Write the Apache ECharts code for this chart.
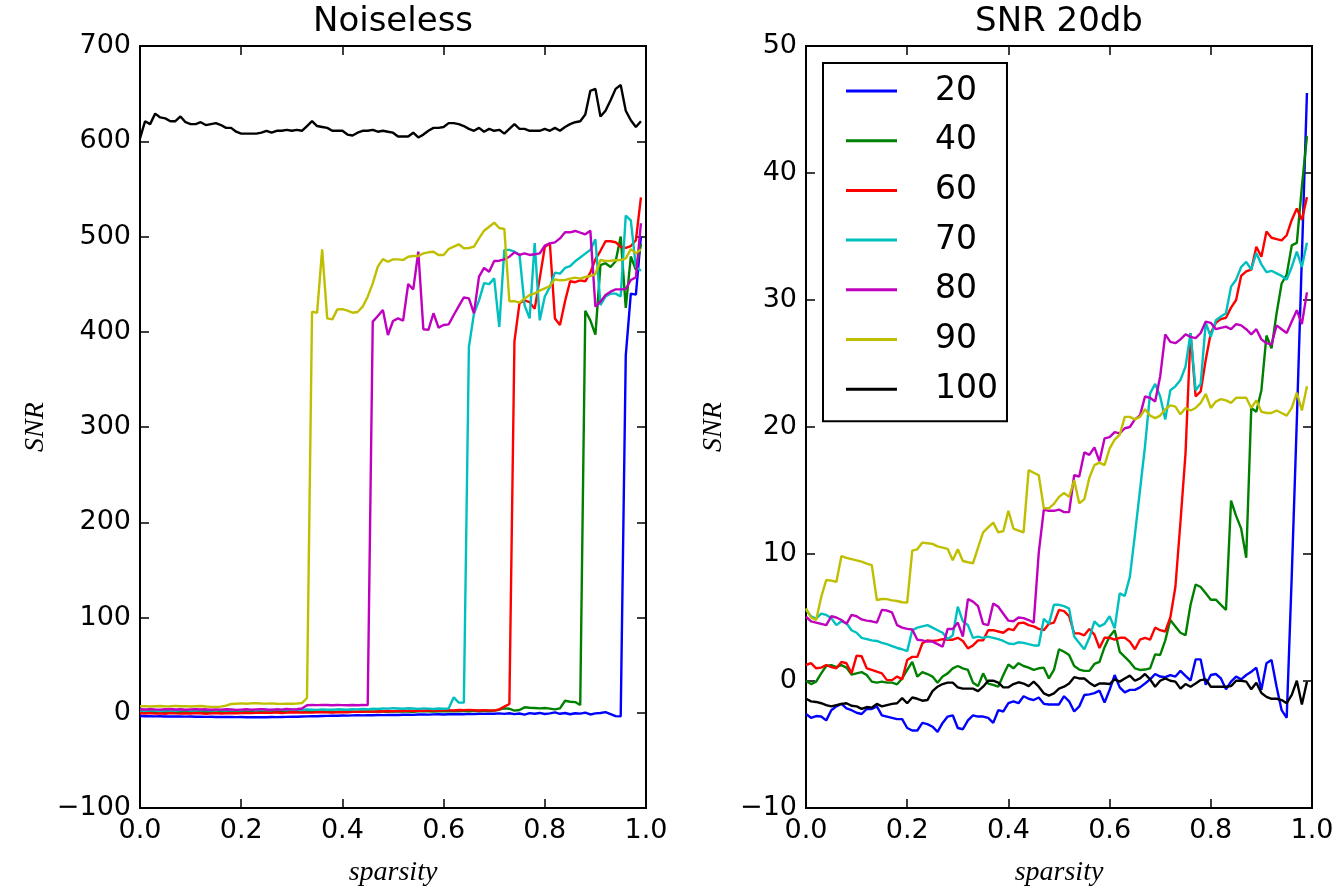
<!DOCTYPE html>
<html>
<head>
<meta charset="utf-8">
<script src="https://cdn.jsdelivr.net/npm/echarts@6/dist/echarts.min.js"></script>
<style>
html,body{margin:0;padding:0;background:#fff;}
#chart{width:1341px;height:888px;}
</style>
</head>
<body>
<div id="chart"></div>
<script>
// sparsity grid (x values)
const sparsity = [
0.00,0.01,0.02,0.03,0.04,0.05,0.06,0.07,0.08,0.09,
0.10,0.11,0.12,0.13,0.14,0.15,0.16,0.17,0.18,0.19,
0.20,0.21,0.22,0.23,0.24,0.25,0.26,0.27,0.28,0.29,
0.30,0.31,0.32,0.33,0.34,0.35,0.36,0.37,0.38,0.39,
0.40,0.41,0.42,0.43,0.44,0.45,0.46,0.47,0.48,0.49,
0.50,0.51,0.52,0.53,0.54,0.55,0.56,0.57,0.58,0.59,
0.60,0.61,0.62,0.63,0.64,0.65,0.66,0.67,0.68,0.69,
0.70,0.71,0.72,0.73,0.74,0.75,0.76,0.77,0.78,0.79,
0.80,0.81,0.82,0.83,0.84,0.85,0.86,0.87,0.88,0.89,
0.90,0.91,0.92,0.93,0.94,0.95,0.96,0.97,0.98,0.99];

const seriesNames = ['20','40','60','70','80','90','100'];
const seriesColors = ['#0000ff','#008000','#ff0000','#00bfbf','#bf00bf','#bfbf00','#000000'];

// ---------- Noiseless ----------
const noiseless20 = [
-3.4,-3.6,-3.5,-3.8,-3.7,-3.9,-3.8,-4.0,-3.9,-4.1,
-4.0,-4.2,-4.1,-4.3,-4.2,-4.4,-4.3,-4.5,-4.4,-4.6,
-4.5,-4.7,-4.6,-4.8,-4.6,-4.7,-4.5,-4.6,-4.4,-4.3,
-4.1,-4.2,-3.9,-3.8,-3.6,-3.7,-3.4,-3.3,-3.1,-3.2,
-2.9,-3.0,-2.8,-2.7,-2.8,-2.5,-2.6,-2.4,-2.5,-2.3,
-2.2,-2.4,-2.1,-2.0,-2.2,-1.9,-1.8,-2.0,-1.7,-1.6,
-1.8,-1.5,-1.6,-1.3,-1.5,-1.2,-1.4,-1.1,-1.2,-0.9,
-1.0,-0.7,-1.2,-0.5,-1.5,-0.8,-1.9,-0.4,-1.0,-0.2,
-1.3,-0.6,0.4,-1.1,-0.3,-1.6,-0.5,-0.9,0.2,-1.8,
-0.7,-0.2,0.6,-1.4,-3.5,-3.8,375,440,439,500];
const noiseless40 = [
0.5,0.3,0.8,0.4,0.9,0.6,0.2,0.7,0.5,1.0,
0.6,0.8,0.4,0.9,0.7,0.3,0.8,1.0,0.6,0.9,
0.5,0.8,1.1,0.7,0.6,0.9,1.2,0.8,0.7,1.0,
0.9,1.3,0.8,1.0,1.2,0.9,1.4,1.1,0.8,1.2,
1.0,1.3,1.1,0.9,1.4,1.2,1.0,1.5,1.3,1.1,
1.4,1.2,1.6,1.3,1.1,1.5,1.7,1.4,1.2,1.6,
1.5,1.8,1.4,1.7,1.9,1.6,2.0,1.8,2.1,1.9,
2.3,3.2,4.6,4.2,2.2,2.9,5.7,5.3,5.0,4.6,
5.0,4.3,3.6,4.6,12.6,11.6,11.2,8.1,422,412,
397,470,472,468,474,500,425,479,465,492];
const noiseless60 = [
-0.5,-0.8,-0.3,-0.9,-0.6,-1.0,-0.4,-0.7,-0.9,-0.5,
-0.8,-0.3,-0.6,-1.0,-0.7,-0.4,-0.8,-0.5,-0.2,-0.6,
-0.3,0.0,-0.4,0.2,-0.1,0.3,0.0,0.4,-0.2,0.1,
0.5,0.2,0.6,0.3,0.1,0.5,0.7,0.4,0.2,0.6,
0.8,0.5,0.9,1.2,1.0,1.4,1.1,1.6,1.3,1.8,
1.5,2.0,1.7,2.2,1.9,2.4,2.1,2.6,2.3,2.2,
2.5,2.8,2.4,2.9,2.6,3.0,2.7,2.4,2.8,2.5,
2.2,3.6,6.4,9.2,390,430,433,431,424,456,
489,493,414,407,432,453,452,454,453,462,
476,485,495,495,494,489,488,490,496,541];
const noiseless70 = [
2.2,2.0,2.5,2.3,1.9,2.4,2.6,2.1,2.5,2.8,
2.4,2.2,2.7,2.5,2.3,2.8,2.6,2.4,2.9,2.7,
2.5,3.0,2.8,2.6,3.1,2.9,2.7,3.2,3.0,2.8,
3.3,3.1,2.9,3.4,3.2,3.0,3.5,3.3,3.1,3.6,
3.4,3.2,3.7,3.5,3.9,3.6,4.2,4.0,4.5,4.3,
4.8,4.5,4.2,4.7,4.4,4.1,4.6,4.3,4.0,4.5,
4.2,4.5,16.2,10.6,10.6,384,419,433,451,450,
456,405,486,486,484,481,428,414,493,412,
437,447,462,461,467,469,474,478,482,486,
497,428,437,440,440,437,522,517,468,464];
const noiseless80 = [
3.6,3.4,3.8,3.5,3.3,3.7,3.9,3.4,3.6,3.2,
3.5,3.8,3.4,3.6,3.1,3.5,3.3,3.7,3.4,3.0,
3.3,3.6,3.2,3.5,3.8,3.4,3.1,3.6,3.3,3.9,
3.5,3.7,4.5,7.8,8.2,8.0,8.3,8.1,7.9,8.2,
8.0,7.8,8.1,7.9,8.2,8.0,410.6,416.5,422.8,396.6,
411.3,414,411.6,450.1,444.5,484.1,402.6,402,419.4,404.3,
407.1,407.8,417.6,426.9,436,435,419.4,457.8,467,463,
474.3,474.6,476,478.8,483.4,480.6,482.3,480.6,481.3,482.3,
490.4,492.8,493.8,498,504.4,504.4,505.8,504,502.3,506.1,
426.3,431.6,438.6,442.1,444.5,444.5,444.9,454.3,457.1,513.9];
const noiseless90 = [
6.8,7.0,6.6,6.9,7.1,6.7,6.9,7.2,6.8,7.0,
6.6,6.9,7.1,6.5,6.2,6.0,6.4,7.5,9.2,9.5,
9.8,9.4,9.9,10.1,9.7,9.6,9.8,9.5,9.3,9.6,
9.4,9.7,10.2,15.5,421.1,420,486.5,414.1,413,423.5,
423.8,422.1,420,420.7,426.3,436.8,450.8,468.3,476.3,473.5,
476,476,475.3,478.8,479.5,479.5,482.3,483.4,484,480.6,
480.6,486.9,489.3,491.8,487.6,487.9,489.3,498,506.1,510.3,
514.5,508.9,507.9,432,432.2,430.5,435,438.5,440.3,443.1,
445.5,448,455,454,454.3,455.7,456.8,455.7,457.5,458.5,
460.6,475.3,474.3,474.6,475,475.3,477,486.8,482.3,486.5];
const noiseless100 = [
603,621,618,629,625,624,621,621,626,620,
618,618,620,617,618,619,617,614,614,610,
608,608,608,608,609,611,609,611,611,612,
611,612,611,616,621,616,615,614,611,611,
611,607,606,609,611,611,612,610,611,610,
609,605,605,605,609,604,607,611,614,614,
615,619,619,618,616,613,611,614,610,613,
611,612,608,613,618,613,613,611,611,611,
613,611,614,611,615,618,620,621,628,653,
655,626,632,643,655,659,632,622,615,621];

// ---------- SNR 20db ----------
const snr20 = [
-2.6,-2.9,-2.76,-2.8,-3.1,-2.3,-2.0,-1.8,-2.15,-2.3,
-2.5,-2.6,-2.2,-2.2,-2.0,-2.7,-2.8,-2.9,-3.0,-3.0,
-3.7,-3.9,-3.9,-3.3,-3.4,-3.6,-4.0,-3.3,-2.8,-2.7,
-3.7,-3.8,-3.1,-2.7,-2.8,-2.8,-2.9,-3.3,-2.3,-2.4,
-1.75,-1.6,-1.75,-1.2,-1.4,-1.5,-1.3,-1.8,-1.85,-1.85,
-1.85,-1.2,-1.6,-2.4,-2.0,-1.1,-1.05,-0.95,-0.76,-1.7,
-0.7,0.47,-0.5,-0.9,-0.7,-0.7,-0.5,-0.2,0.13,0.55,
0.35,0.3,0.47,0.35,0.8,0.4,0.04,1.7,1.7,-0.3,
0.47,0.55,0.2,-0.65,-0.05,0.35,0.13,0.47,0.73,1.05,
-0.7,1.4,1.65,-0.45,-2.3,-2.9,8.3,20.5,33.4,46.3];
const snr40 = [
0.02,-0.24,-0.05,0.6,1.18,1.25,1.1,1.25,1.05,0.5,
0.6,0.7,0.47,-0.05,-0.13,-0.05,-0.13,-0.13,-0.26,0.2,
0.87,1.5,0.35,0.7,0.55,0.35,-0.13,0.35,0.6,1.0,
1.18,1.0,0.87,-0.13,-0.4,0.6,-0.2,-0.3,-0.45,0.47,
1.3,1.0,1.4,1.18,1.05,0.87,1.0,1.05,0.2,0.87,
2.5,2.3,2.05,1.18,0.9,0.8,0.8,1.34,1.5,2.66,
3.5,4.0,2.3,1.9,1.5,1.0,0.87,0.9,1.0,2.1,
2.05,3.2,4.8,4.3,3.8,3.6,6.0,7.6,7.4,6.9,
6.4,6.4,6.0,5.6,14.2,13.0,12.0,9.7,21.5,21.2,
22.9,27.2,26.2,28.95,31.3,32.0,34.3,34.5,38.9,42.9];
const snr60 = [
1.26,1.4,1.0,1.05,1.26,1.1,1.0,1.5,1.4,0.6,
2.0,1.95,1.0,0.87,0.73,0.6,0.07,0.07,0.35,0.13,
1.65,1.9,1.9,2.97,3.2,3.15,3.2,3.3,3.25,3.25,
3.4,3.15,2.57,2.8,3.2,3.2,4.0,4.0,3.9,3.8,
4.1,4.0,4.55,4.6,4.4,4.3,4.1,4.0,4.5,4.6,
5.6,5.5,5.1,3.75,3.75,3.6,4.1,3.65,2.6,3.4,
3.4,3.25,3.4,3.4,3.1,2.5,3.25,3.4,3.25,4.2,
4.0,3.9,5.0,7.4,12.5,17.9,27.4,22.4,22.8,25.3,
27.4,28.2,28.5,28.6,29.4,30.0,31.9,32.25,32.4,34.2,
33.4,35.4,34.9,34.8,34.7,35.1,36.3,37.2,36.3,38.1];
const snr70 = [
5.6,5.1,4.9,5.3,5.2,4.95,4.4,4.7,4.55,4.0,
3.8,3.4,3.3,3.2,3.15,3.0,2.9,2.75,2.6,2.5,
2.35,4.0,4.2,4.3,4.4,4.2,4.0,3.8,3.3,3.6,
5.85,4.7,4.4,3.4,3.5,3.4,3.5,3.4,3.3,3.15,
2.95,2.9,3.05,3.0,2.9,2.8,2.8,4.9,4.5,6.0,
6.0,5.9,5.7,3.5,3.0,2.5,3.4,4.7,4.3,4.5,
5.1,4.15,6.9,6.7,8.2,11.5,15.0,18.5,22.65,23.4,
22.4,20.6,22.9,23.2,23.7,24.75,27.4,22.9,23.4,28.2,
27.1,28.4,28.7,28.95,31.05,31.6,32.6,33.0,32.4,33.7,
32.8,32.2,32.3,32.1,31.9,31.6,32.6,33.8,32.6,34.5];
const snr80 = [
5.06,4.7,4.6,4.5,4.4,5.1,5.0,4.8,4.5,5.2,
5.1,4.85,4.75,4.7,4.6,5.6,5.55,5.4,4.4,4.2,
4.1,4.05,3.25,3.2,3.1,3.1,2.9,2.7,4.1,4.1,
4.6,3.5,6.45,6.25,5.9,4.5,4.4,6.1,5.85,5.3,
4.75,4.7,5.0,4.95,4.8,4.6,10.1,13.5,13.4,13.4,
13.5,13.3,13.3,16.2,16.1,18.0,17.8,18.4,17.3,19.1,
19.2,19.6,19.5,19.9,20.0,20.6,20.9,22.4,22.3,22.0,
24.0,27.3,26.7,26.6,26.9,27.3,27.1,27.0,27.4,28.3,
28.2,27.7,27.8,27.9,27.7,28.1,28.0,27.7,27.3,27.7,
26.9,26.6,26.5,28.0,27.7,27.4,28.3,29.2,28.1,30.6];
const snr90 = [
5.72,5.0,4.8,6.6,7.95,7.9,7.8,9.84,9.7,9.6,
9.5,9.4,9.25,9.13,6.38,6.46,6.45,6.35,6.3,6.2,
6.17,10.26,10.37,10.9,10.85,10.8,10.6,10.5,10.4,9.5,
10.37,9.45,9.35,9.27,10.5,11.7,12.1,12.47,11.7,11.8,
13.4,12.0,11.85,11.7,16.6,16.4,16.2,13.6,13.6,13.95,
14.5,14.8,14.5,15.8,14.0,14.3,16.0,17.0,17.2,17.0,
18.3,19.0,19.4,20.8,20.8,20.6,20.8,21.4,20.9,20.7,
20.9,21.4,21.7,21.6,21.0,21.5,21.3,21.5,21.9,22.6,
21.5,22.0,22.2,22.1,21.9,22.3,22.3,22.3,21.5,22.1,
21.2,21.1,21.1,21.3,21.1,20.9,21.5,22.7,21.3,23.2];
const snr100 = [
-1.4,-1.6,-1.65,-1.75,-1.9,-2.0,-1.9,-1.8,-1.75,-1.95,
-2.0,-2.2,-2.05,-2.1,-1.8,-2.0,-1.9,-1.8,-1.75,-1.35,
-1.75,-1.3,-1.4,-1.55,-1.5,-0.8,-0.45,-0.24,-0.13,-0.13,
-0.5,-0.6,-0.6,-0.6,-0.8,-0.45,0.02,0.02,-0.13,-0.5,
-0.5,-0.24,-0.1,-0.2,-0.4,-0.05,-0.45,-0.97,-1.15,-0.97,
-0.6,-0.45,-0.2,0.3,0.2,0.2,-0.13,-0.4,-0.2,-0.2,
-0.24,0.13,-0.05,0.2,0.42,0.02,0.2,0.55,0.13,-0.45,
0.02,0.2,0.02,-0.05,-0.6,-0.24,-0.45,-0.2,0.07,0.13,
-0.45,-0.45,-0.45,-0.45,-0.4,0.02,0.02,-0.05,-0.65,-0.13,
-0.95,-1.25,-1.4,-1.4,-1.5,-1.75,-1.1,0.02,-1.85,-0.05];

const xTicks = [0.0, 0.2, 0.4, 0.6, 0.8, 1.0];
const leftYTicks = [-100, 0, 100, 200, 300, 400, 500, 600, 700];
const rightYTicks = [-10, 0, 10, 20, 30, 40, 50];

const noiselessSets = [noiseless20, noiseless40, noiseless60, noiseless70, noiseless80, noiseless90, noiseless100];
const snrSets = [snr20, snr40, snr60, snr70, snr80, snr90, snr100];

// ---------- chart ----------
const chart = echarts.init(document.getElementById('chart'), null, {renderer: 'canvas'});
const TICK_FONT = 'DejaVu Sans';
const TICK_SIZE = 27;
const minusFmt = v => String(v).replace('-', '\u2212');
const tick = {inside: true, length: 9, lineStyle: {color: '#000', width: 1.5}};
const LABEL_STYLE = {fontFamily: 'Liberation Serif', fontStyle: 'italic', fontSize: 28, color: '#000'};

function xAxisDef(grid, pos) {
  const bottom = pos === 'bottom';
  return {
    type: 'value', gridIndex: grid, position: pos,
    min: xTicks[0], max: xTicks[xTicks.length - 1], interval: xTicks[1] - xTicks[0],
    axisLine: {show: false, onZero: false}, axisTick: tick, splitLine: {show: false},
    axisLabel: bottom ? {show: true, color: '#000', fontFamily: TICK_FONT, fontSize: TICK_SIZE, margin: 9,
      formatter: v => v.toFixed(1)} : {show: false},
    name: bottom ? 'sparsity' : '', nameLocation: 'middle', nameGap: 51,
    nameTextStyle: LABEL_STYLE
  };
}
function yAxisDef(grid, pos, ticks, gap) {
  const left = pos === 'left';
  return {
    type: 'value', gridIndex: grid, position: pos,
    min: ticks[0], max: ticks[ticks.length - 1], interval: ticks[1] - ticks[0],
    axisLine: {show: false, onZero: false}, axisTick: tick, splitLine: {show: false},
    axisLabel: left ? {show: true, color: '#000', fontFamily: TICK_FONT, fontSize: TICK_SIZE, margin: 9,
      formatter: minusFmt} : {show: false},
    name: left ? 'SNR' : '', nameLocation: 'middle', nameGap: gap,
    nameTextStyle: LABEL_STYLE
  };
}

const series = [];
seriesNames.forEach((nm, k) => {
  series.push({
    name: nm, type: 'line', xAxisIndex: 0, yAxisIndex: 0,
    data: sparsity.map((x, i) => [x, noiselessSets[k][i]]),
    showSymbol: false, symbol: 'none', animation: false,
    lineStyle: {color: seriesColors[k], width: 2.4}, itemStyle: {color: seriesColors[k]},
    emphasis: {disabled: true}
  });
});
seriesNames.forEach((nm, k) => {
  series.push({
    name: nm, type: 'line', xAxisIndex: 2, yAxisIndex: 2,
    data: sparsity.map((x, i) => [x, snrSets[k][i]]),
    showSymbol: false, symbol: 'none', animation: false,
    lineStyle: {color: seriesColors[k], width: 2.4}, itemStyle: {color: seriesColors[k]},
    emphasis: {disabled: true}
  });
});

const option = {
  backgroundColor: '#fff',
  animation: false,
  grid: [
    {left: 140, top: 46, width: 506, height: 762, show: true, borderColor: '#000', borderWidth: 2,
     containLabel: false, outerBoundsMode: 'none'},
    {left: 806, top: 46, width: 506, height: 762, show: true, borderColor: '#000', borderWidth: 2,
     containLabel: false, outerBoundsMode: 'none'}
  ],
  xAxis: [xAxisDef(0, 'bottom'), xAxisDef(0, 'top'), xAxisDef(1, 'bottom'), xAxisDef(1, 'top')],
  yAxis: [yAxisDef(0, 'left', leftYTicks, 90), yAxisDef(0, 'right', leftYTicks, 0),
          yAxisDef(1, 'left', rightYTicks, 78), yAxisDef(1, 'right', rightYTicks, 0)],
  legend: {
    data: seriesNames, orient: 'vertical', left: 823, top: 63,
    padding: [8, 9, 12, 23], itemGap: 9.7, itemWidth: 51, itemHeight: 3, icon: 'rect',
    borderColor: '#000', borderWidth: 2, backgroundColor: '#fff', borderRadius: 0,
    selectedMode: false,
    textStyle: {fontFamily: TICK_FONT, fontSize: 33, color: '#000', lineHeight: 40, padding: [0, 0, 0, 33]}
  },
  graphic: [
    {type: 'text', x: 393, y: 22, style: {text: 'Noiseless', fontFamily: TICK_FONT, fontSize: 34, fill: '#000', align: 'center', verticalAlign: 'middle'}},
    {type: 'text', x: 1059, y: 22, style: {text: 'SNR 20db', fontFamily: TICK_FONT, fontSize: 34, fill: '#000', align: 'center', verticalAlign: 'middle'}}
  ],
  series: series
};
chart.setOption(option);
</script>
</body>
</html>
